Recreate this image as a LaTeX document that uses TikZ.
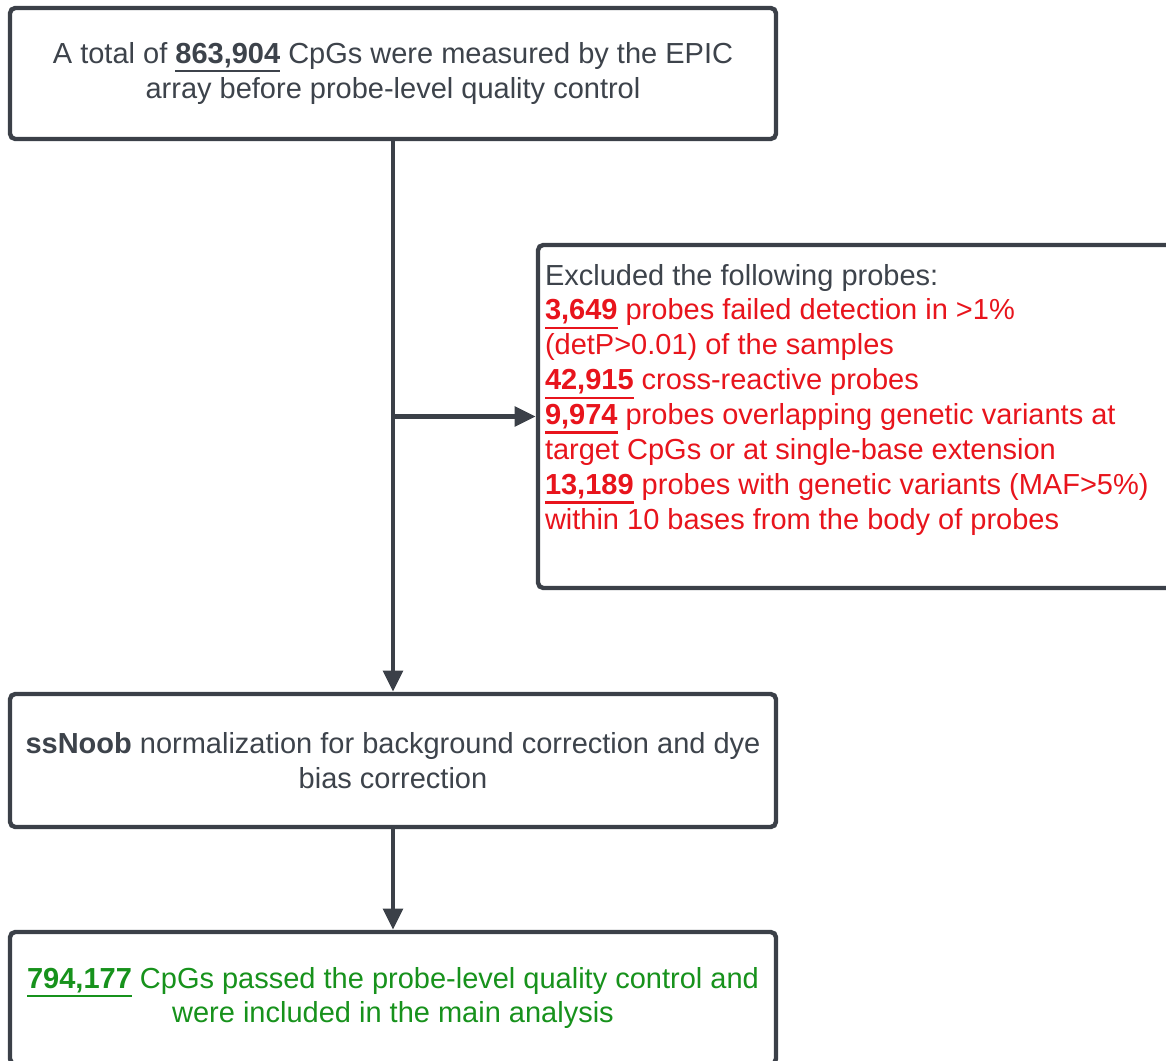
\documentclass[tikz,border=0pt]{standalone}
\usepackage{fontspec}
\setmainfont{Liberation Sans}
\usetikzlibrary{arrows.meta}

\definecolor{linegray}{HTML}{3B4048}
\definecolor{textgray}{HTML}{3D434B}
\definecolor{exclred}{HTML}{E8141C}
\definecolor{passgreen}{HTML}{17921C}
\newcommand{\cnt}[1]{\leavevmode\vtop{\hbox{\textbf{#1}}\kern1.2pt\hrule height 1.3pt}}

\tikzset{
    stepbox/.style={draw=linegray, line width=2.5pt, rounded corners=3pt, fill=white, align=center,
        font=\fontsize{16.5}{19.9}\selectfont, text=textgray},
    flow/.style={-{Triangle[length=12pt,width=11pt]}, draw=linegray, line width=2.5pt},
}

\begin{document}
\begin{tikzpicture}
            \useasboundingbox (0,0) rectangle (23.32,-21.22);

            \node(total_box) at (7.86,-1.47) [stepbox, minimum width=15.32cm, minimum height=2.62cm] {A total of \cnt{863,904} CpGs were measured by the EPIC\\array before probe-level quality control};

            \node(excl_box) at (17.13,-8.33) [stepbox, minimum width=12.74cm, minimum height=6.86cm, inner sep=0pt, text=exclred] {\parbox[c][6.1cm][t]{12.46cm}{\raggedright
                {\color{textgray}Excluded the following probes:}\\
                \cnt{3,649} probes failed detection in >1\%\\
                (detP>0.01) of the samples\\
                \cnt{42,915} cross-reactive probes\\
                \cnt{9,974} probes overlapping genetic variants at\\
                target CpGs or at single-base extension\\
                \cnt{13,189} probes with genetic variants (MAF>5\%)\\
                within 10 bases from the body of probes}};

            \node(norm_box) at (7.86,-15.21) [stepbox, minimum width=15.32cm, minimum height=2.66cm] {\textbf{ssNoob} normalization for background correction and dye\\bias correction};

            \node(final_box) at (7.86,-19.96) [stepbox, minimum width=15.32cm, minimum height=2.64cm, text=passgreen] {\cnt{794,177} CpGs passed the probe-level quality control and\\were included in the main analysis};

            \draw[flow] (total_box) -- (norm_box);
            \draw[flow] (total_box.south |- excl_box.west) -- (excl_box.west);
            \draw[flow] (norm_box) -- (final_box);
        \end{tikzpicture}
\end{document}
